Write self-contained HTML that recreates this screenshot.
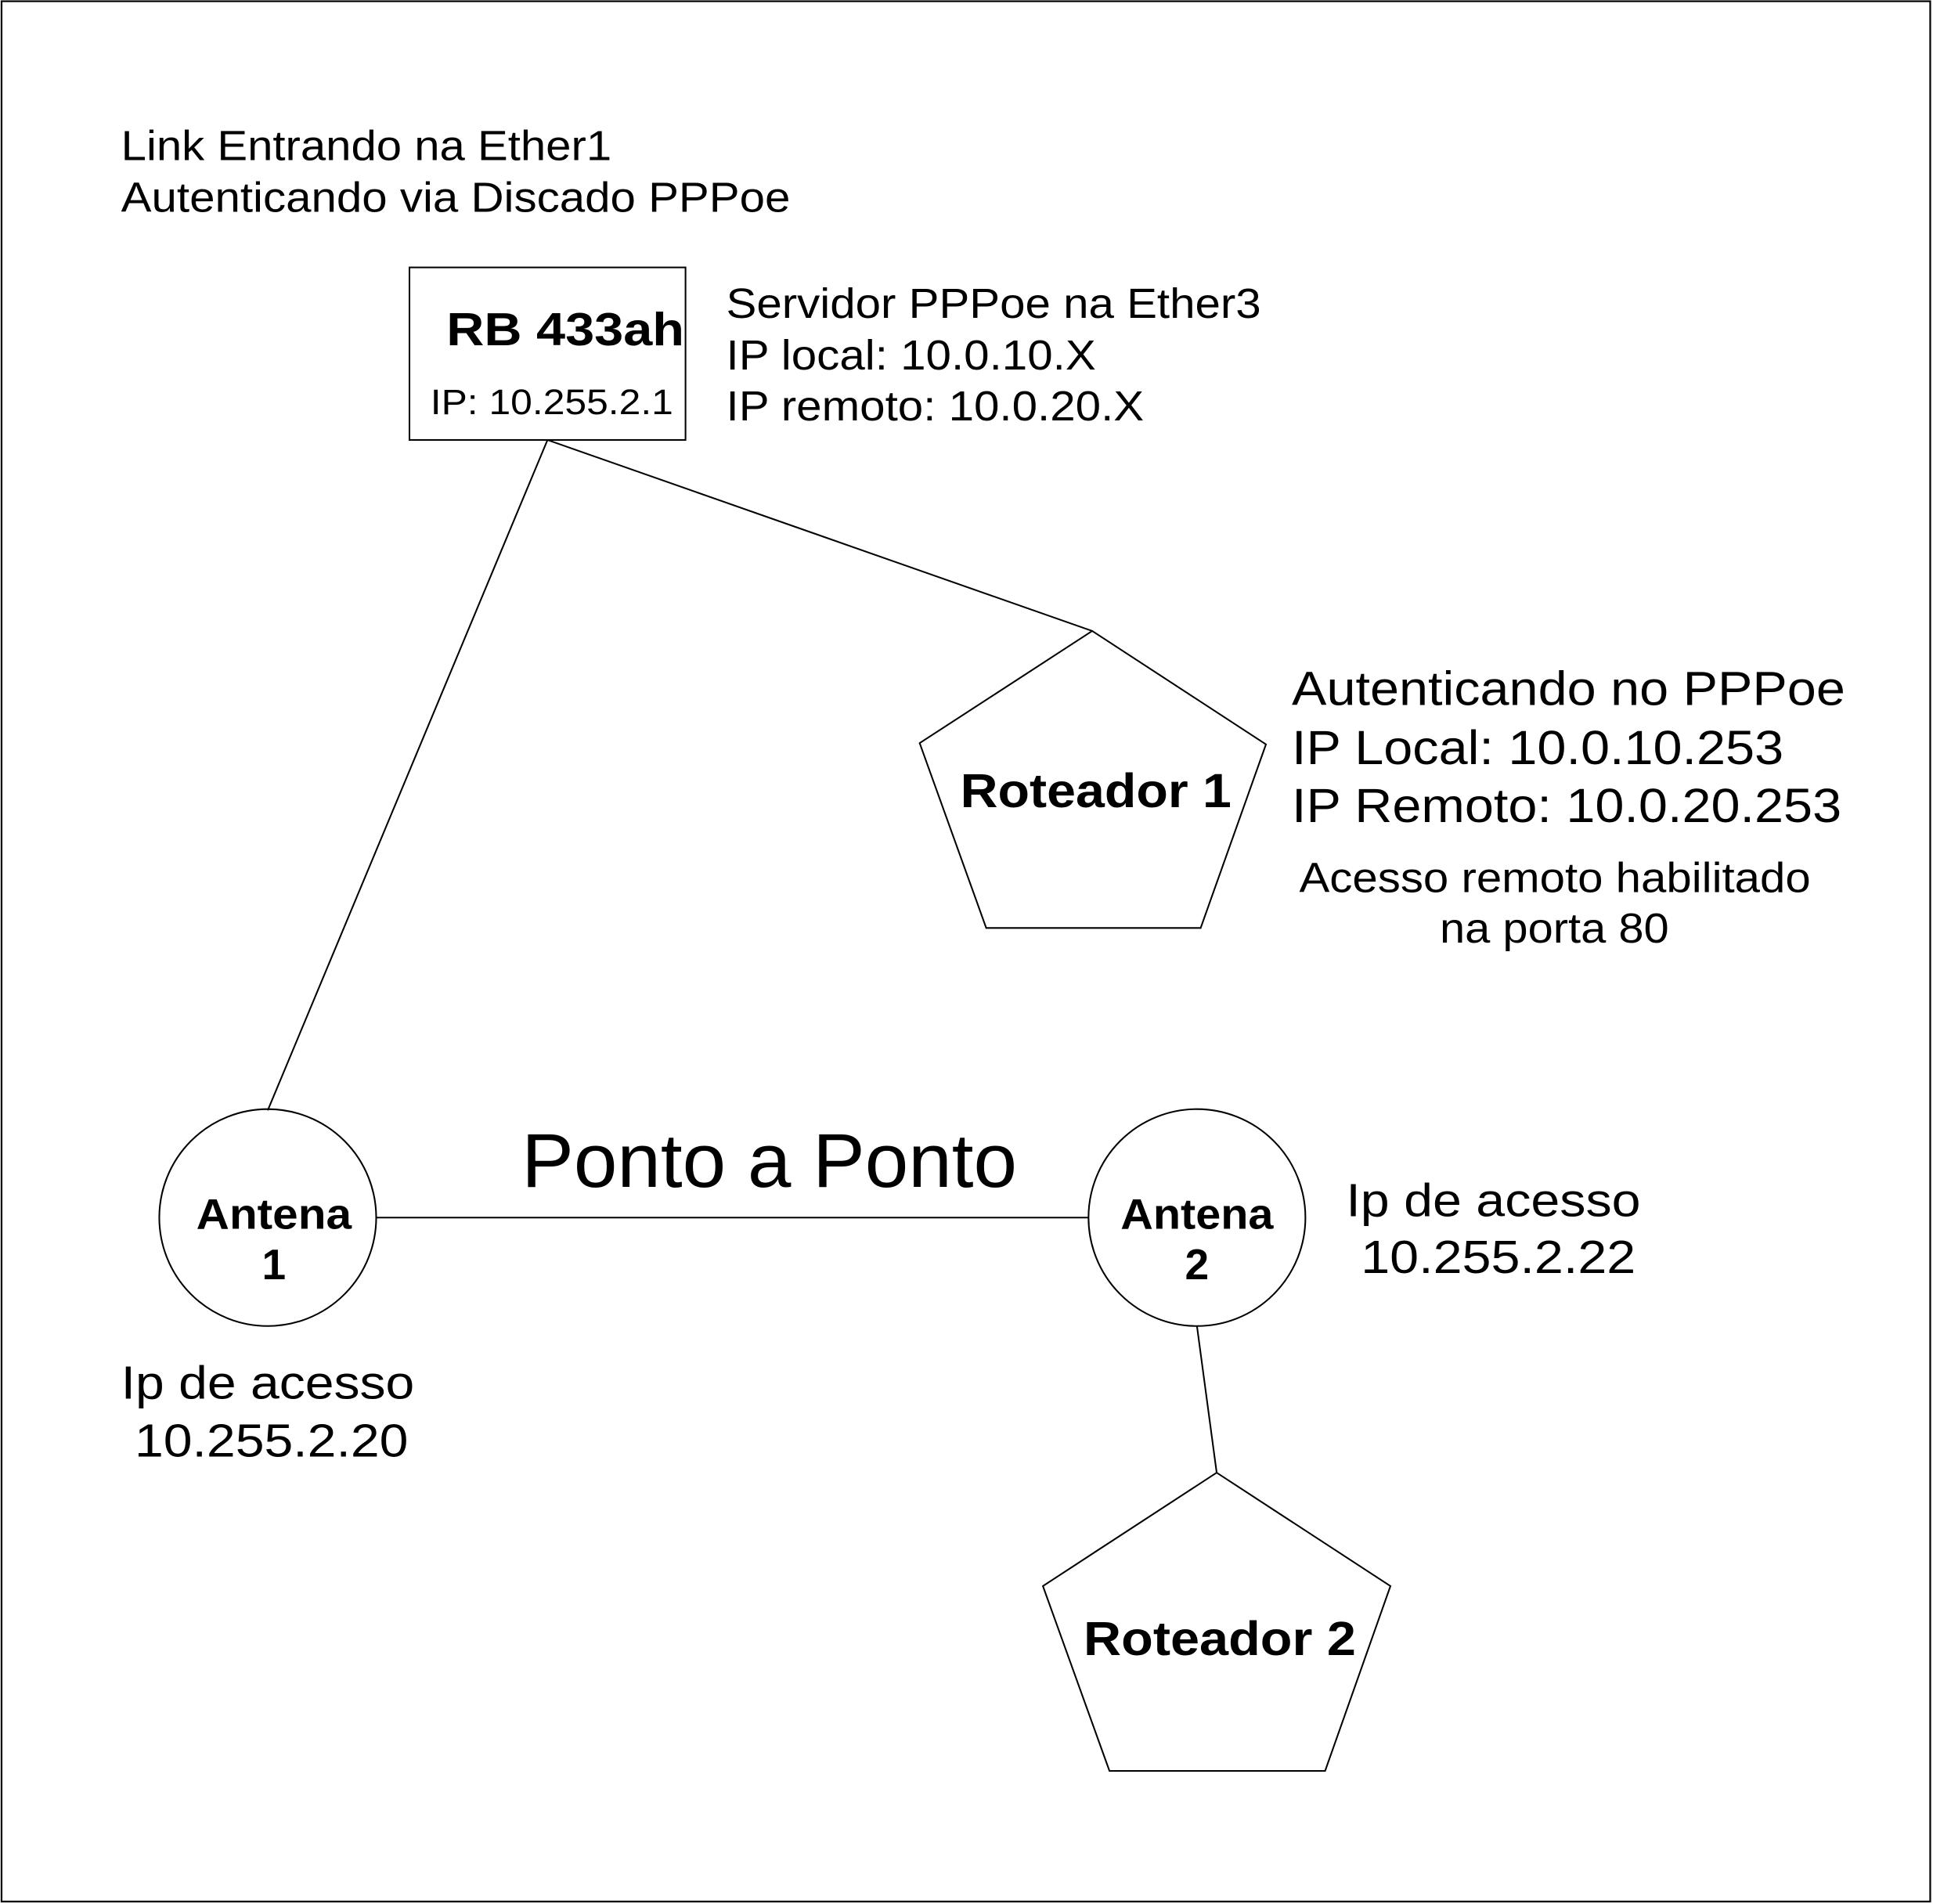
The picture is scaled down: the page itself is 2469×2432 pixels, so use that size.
<!DOCTYPE html>
<html><head><meta charset="utf-8"><style>html,body{margin:0;padding:0;background:#fff}svg{display:block}</style></head>
<body>
<svg width="2469" height="2432" viewBox="0 0 1568 1545" xmlns="http://www.w3.org/2000/svg" font-family="Liberation Sans, sans-serif" fill="#000">
<rect x="1" y="1" width="1565" height="1542" fill="none" stroke="#000" stroke-width="1.4"/>
<g fill="none" stroke="#000" stroke-width="1.3">
<rect x="332" y="217" width="224" height="140"/>
<line x1="444" y1="357" x2="217" y2="901"/>
<line x1="444" y1="357" x2="886" y2="512"/>
<polygon points="886,512 1027,604 974,753 800,753 746,603"/>
<circle cx="217" cy="988" r="88"/>
<line x1="305" y1="988" x2="883" y2="988"/>
<circle cx="971" cy="988" r="88"/>
<line x1="971" y1="1076" x2="987" y2="1195"/>
<polygon points="987,1195 1128,1287 1075,1437 900,1437 846,1287"/>
</g>
<g lengthAdjust="spacingAndGlyphs">
<text x="98" y="130" font-size="34" textLength="398" lengthAdjust="spacingAndGlyphs">Link Entrando na Ether1</text>
<text x="98" y="172" font-size="34" textLength="543" lengthAdjust="spacingAndGlyphs">Autenticando via Discado PPPoe</text>
<text x="362" y="280" font-size="38" font-weight="bold" textLength="193" lengthAdjust="spacingAndGlyphs">RB 433ah</text>
<text x="349" y="336" font-size="29" textLength="197" lengthAdjust="spacingAndGlyphs">IP: 10.255.2.1</text>
<text x="589" y="258" font-size="34" textLength="434" lengthAdjust="spacingAndGlyphs">Servidor PPPoe na Ether3</text>
<text x="589" y="300" font-size="34" textLength="300" lengthAdjust="spacingAndGlyphs">IP local: 10.0.10.X</text>
<text x="589" y="341" font-size="34" textLength="339" lengthAdjust="spacingAndGlyphs">IP remoto: 10.0.20.X</text>
<text x="779" y="655" font-size="39" font-weight="bold" textLength="220" lengthAdjust="spacingAndGlyphs">Roteador 1</text>
<text x="1048" y="572" font-size="39" textLength="449" lengthAdjust="spacingAndGlyphs">Autenticando no PPPoe</text>
<text x="1048" y="620" font-size="39" textLength="399" lengthAdjust="spacingAndGlyphs">IP Local: 10.0.10.253</text>
<text x="1048" y="667" font-size="39" textLength="446" lengthAdjust="spacingAndGlyphs">IP Remoto: 10.0.20.253</text>
<text x="1054" y="724" font-size="34" textLength="415" lengthAdjust="spacingAndGlyphs">Acesso remoto habilitado</text>
<text x="1168" y="765" font-size="34" textLength="186" lengthAdjust="spacingAndGlyphs">na porta 80</text>
<text x="423" y="963" font-size="62" textLength="402" lengthAdjust="spacingAndGlyphs">Ponto a Ponto</text>
<text x="159" y="997" font-size="35" font-weight="bold" textLength="126" lengthAdjust="spacingAndGlyphs">Antena</text>
<text x="222" y="1038" font-size="35" font-weight="bold" text-anchor="middle">1</text>
<text x="909" y="997" font-size="35" font-weight="bold" textLength="124" lengthAdjust="spacingAndGlyphs">Antena</text>
<text x="971" y="1038" font-size="35" font-weight="bold" text-anchor="middle">2</text>
<text x="1092" y="987" font-size="38" textLength="239" lengthAdjust="spacingAndGlyphs">Ip de acesso</text>
<text x="1104" y="1033" font-size="38" textLength="223" lengthAdjust="spacingAndGlyphs">10.255.2.22</text>
<text x="98" y="1135" font-size="38" textLength="238" lengthAdjust="spacingAndGlyphs">Ip de acesso</text>
<text x="109" y="1182" font-size="38" textLength="222" lengthAdjust="spacingAndGlyphs">10.255.2.20</text>
<text x="879" y="1343" font-size="39" font-weight="bold" textLength="221" lengthAdjust="spacingAndGlyphs">Roteador 2</text>
</g>
</svg>
</body></html>
